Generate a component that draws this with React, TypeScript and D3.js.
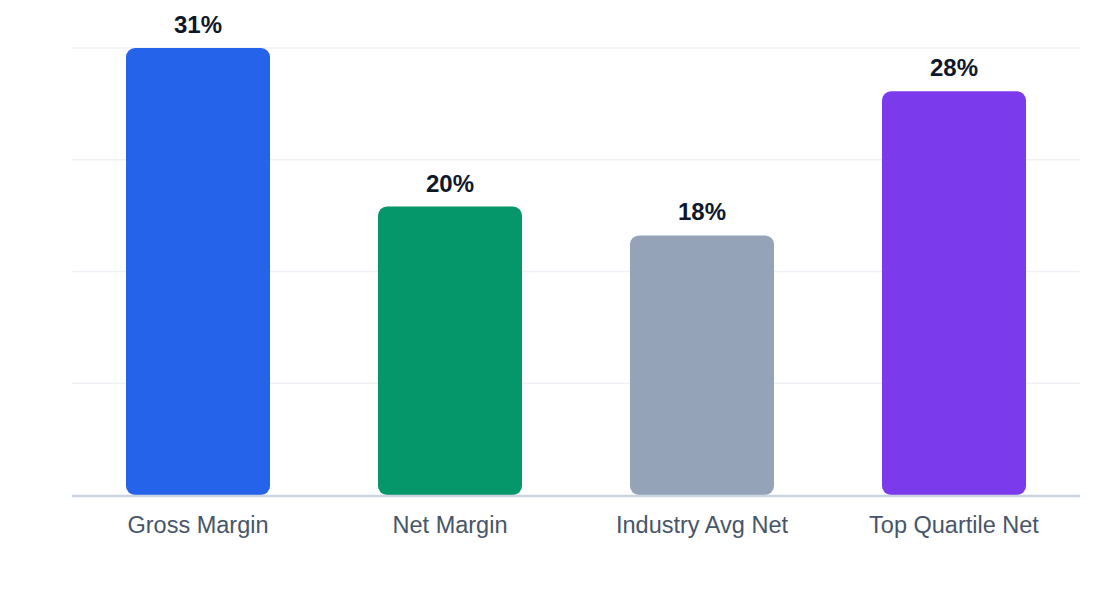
import * as d3 from 'd3';

const categories = ['Gross Margin', 'Net Margin', 'Industry Avg Net', 'Top Quartile Net'];
const values = [31, 20, 18, 28];
const colors = ['#2563eb', '#059669', '#94a3b8', '#7c3aed'];
const gridSteps = 4;

const width = 1120;
const height = 600;
const margin = { top: 48, right: 40, bottom: 105, left: 72 };

export default function App(): JSX.Element {
  const x = d3.scaleBand<string>()
    .domain(categories)
    .range([margin.left, width - margin.right])
    .paddingInner(3 / 7)
    .paddingOuter(1.5 / 7);

  const y = d3.scaleLinear()
    .domain([0, d3.max(values) as number])
    .range([height - margin.bottom, margin.top]);

  const gridValues = d3.range(gridSteps + 1).map(i => (y.domain()[1] * i) / gridSteps);
  const r = 9;

  return (
    <svg
      width={width}
      height={height}
      style={{ position: 'fixed', left: 0, top: 0, background: '#fff' }}
      fontFamily="'Liberation Sans', Arial, Helvetica, sans-serif"
    >
      <g className="grid">
        {gridValues.slice(1).map(v => (
          <line
            key={v}
            x1={margin.left}
            x2={width - margin.right}
            y1={y(v)}
            y2={y(v)}
            stroke="#eef1f5"
            strokeWidth={1.5}
          />
        ))}
      </g>

      <g className="bars">
        {categories.map((c, i) => {
          const x0 = x(c) as number;
          const w = x.bandwidth();
          const y0 = y(values[i]);
          const y1 = y(0);
          return (
            <g key={c}>
              <rect x={x0} y={y0} width={w} height={y1 - y0} rx={r} ry={r} fill={colors[i]} />
              <text
                x={x0 + w / 2}
                y={y0 - 15}
                textAnchor="middle"
                fontSize={24}
                fontWeight={700}
                fill="#0f172a"
              >
                {values[i]}%
              </text>
            </g>
          );
        })}
      </g>

      <line
        x1={margin.left}
        x2={width - margin.right}
        y1={y(0) + 1}
        y2={y(0) + 1}
        stroke="#cbd5e1"
        strokeWidth={2.5}
      />

      <g className="x-axis">
        {categories.map(c => (
          <text
            key={c}
            x={(x(c) as number) + x.bandwidth() / 2}
            y={y(0) + 38}
            textAnchor="middle"
            fontSize={23.5}
            fill="#475569"
          >
            {c}
          </text>
        ))}
      </g>
    </svg>
  );
}
